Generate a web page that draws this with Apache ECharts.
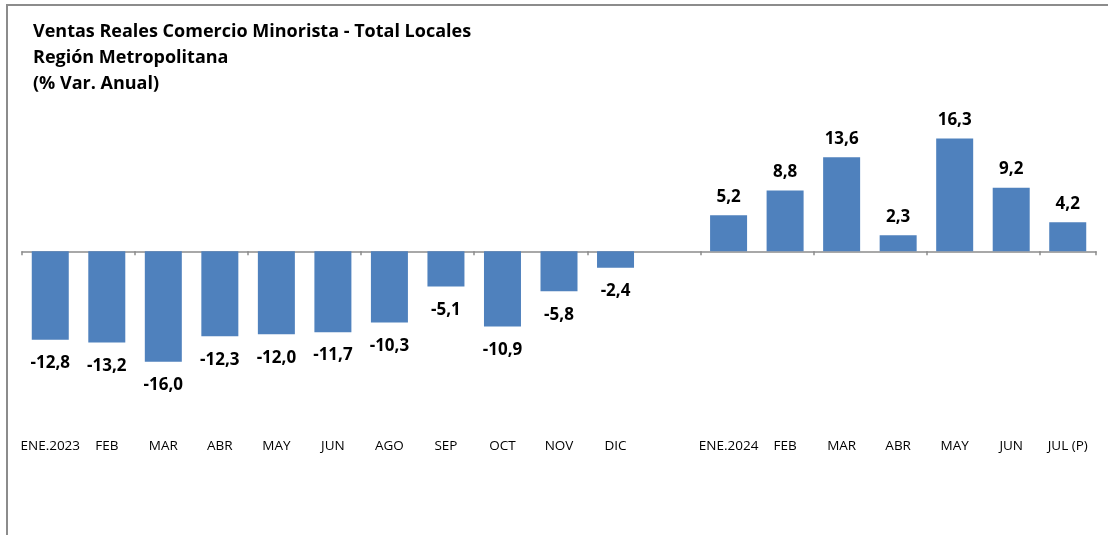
<!DOCTYPE html>
<html>
<head>
<meta charset="utf-8">
<script src="https://cdn.jsdelivr.net/npm/echarts@6/dist/echarts.min.js"></script>
<style>html,body{margin:0;padding:0;background:#fff}#c{width:1108px;height:535px}</style>
</head>
<body>
<div id="c"></div>
<script>
const categories = ['ENE.2023','FEB','MAR','ABR','MAY','JUN','AGO','SEP','OCT','NOV','DIC','','ENE.2024','FEB','MAR','ABR','MAY','JUN','JUL (P)'];
const values = [-12.8,-13.2,-16.0,-12.3,-12.0,-11.7,-10.3,-5.1,-10.9,-5.8,-2.4,null,5.2,8.8,13.6,2.3,16.3,9.2,4.2];
const titleLines = ['Ventas Reales Comercio Minorista - Total Locales','Región Metropolitana','(% Var. Anual)'];

const FONT = 'Open Sans';
const chart = echarts.init(document.getElementById('c'));
const data = values.map(v => v === null ? null : {
  value: v,
  label: { position: v < 0 ? 'bottom' : 'top', distance: v < 0 ? 15 : 10 }
});
chart.setOption({
  animation: false,
  graphic: [{
    type: 'rect', shape: { x: 7, y: 5, width: 1110, height: 540 },
    style: { fill: 'none', stroke: '#8c8c8c', lineWidth: 2 }
  }],
  title: {
    text: titleLines.join('\n'), left: 33, top: 19, padding: 0,
    textStyle: { fontFamily: FONT, fontWeight: 'bold', fontSize: 18, color: '#000', lineHeight: 26 }
  },
  grid: { left: 22, right: 12, top: 113, bottom: 104 },
  xAxis: [{
    type: 'category', data: categories, position: 'bottom',
    axisLine: { show: false, onZero: false }, axisTick: { show: false },
    axisLabel: { fontFamily: FONT, fontSize: 13.5, color: '#000', margin: 8, interval: 0 }
  }, {
    type: 'category', data: categories, position: 'bottom',
    axisLine: { show: true, onZero: true, lineStyle: { color: '#8c8c8c', width: 1.5 } },
    axisTick: { show: true, length: 4, lineStyle: { color: '#8c8c8c', width: 1.5 } },
    axisLabel: { show: false }
  }],
  yAxis: { type: 'value', min: -26, max: 20, show: false, splitLine: { show: false } },
  series: [{
    type: 'bar', xAxisIndex: 0, data: data, barWidth: 37,
    itemStyle: { color: '#4f81bd' },
    label: {
      show: true, fontFamily: FONT, fontWeight: 'bold', fontSize: 17, color: '#000',
      formatter: p => p.value.toFixed(1).replace('.', ',')
    }
  }]
});
</script>
</body>
</html>
